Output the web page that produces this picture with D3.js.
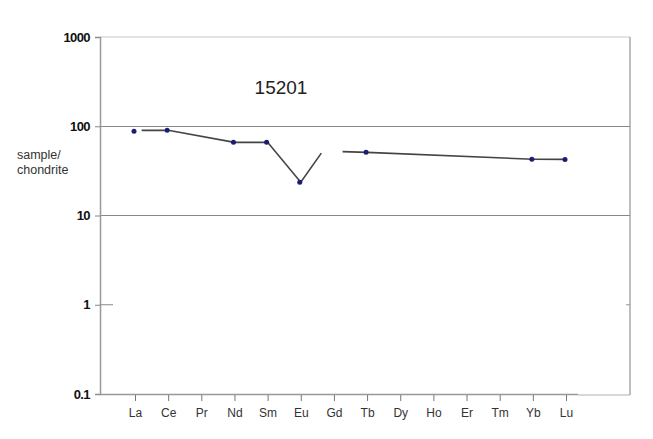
<!DOCTYPE html>
<html><head><meta charset="utf-8">
<script src="https://cdn.jsdelivr.net/npm/d3@7"></script>
<style>body{margin:0;background:#fff}svg{display:block;font-family:Arial,"Liberation Sans",sans-serif}</style>
</head><body><div id="c"></div>
<script>
const categories = ["La","Ce","Pr","Nd","Sm","Eu","Gd","Tb","Dy","Ho","Er","Tm","Yb","Lu"];
const pointCats = ["La","Ce","Nd","Sm","Eu","Tb","Yb","Lu"];
const pointVals = [88, 90, 66, 66, 23.6, 51, 42.7, 42.5];
// line segments: [category index (fractional), value]
const lineSeg1 = [[0.2,90],[1,90],[3,66],[4,66],[5,23.6],[5.62,50]];
const lineSeg2 = [[6.26,52],[7,51],[12,42.7],[13,42.5]];
const yTicks = [0.1, 1, 10, 100, 1000];
const yTickLabels = ["0.1","1","10","100","1000"];
const title = "15201";

(function(){
const W=653,H=439;
const svg=d3.select("#c").append("svg").attr("width",W).attr("height",H);
const pL=100,pR=630,pT=37,pB=394;
const y=d3.scaleLog().domain([0.1,1000]).range([pB,pT]);
const xi=d3.scaleLinear().domain([0,categories.length-1]).range([135,566]);
const x=c=>xi(categories.indexOf(c));

// frame
svg.append("line").attr("x1",pL).attr("x2",pR).attr("y1",pT).attr("y2",pT).attr("stroke","#c8c8c8").attr("stroke-width",1.2);
svg.append("line").attr("x1",pR).attr("x2",pR).attr("y1",pT).attr("y2",pB+1).attr("stroke","#a8a8a8").attr("stroke-width",1.5);
svg.append("line").attr("x1",578).attr("x2",pR).attr("y1",pB+1).attr("y2",pB+1).attr("stroke","#b0b0b0").attr("stroke-width",1.2);

// gridlines
[10,100].forEach(v=>svg.append("line").attr("x1",pL).attr("x2",pR).attr("y1",Math.round(y(v))+0.5).attr("y2",Math.round(y(v))+0.5).attr("stroke","#888").attr("stroke-width",1));

// y axis
const ya=svg.append("g").attr("transform",`translate(${pL},0)`)
  .call(d3.axisLeft(y).tickValues(yTicks).tickFormat((d,i)=>yTickLabels[i]).tickSize(5).tickPadding(5));
ya.select(".domain").attr("stroke","#999").attr("stroke-width",1.5);
ya.selectAll(".tick line").attr("stroke","#888");
ya.selectAll("text").attr("font-size",13).attr("font-weight","bold").attr("fill","#111").attr("letter-spacing","-0.6").attr("font-family","Arial, 'Liberation Sans', sans-serif");
svg.append("line").attr("x1",pL).attr("x2",pL+13).attr("y1",y(1)).attr("y2",y(1)).attr("stroke","#888");
svg.append("line").attr("x1",pR-4).attr("x2",pR).attr("y1",y(1)).attr("y2",y(1)).attr("stroke","#999");

// x axis
const xa=svg.append("g").attr("transform",`translate(0,${pB})`)
  .call(d3.axisBottom(xi).tickValues(d3.range(categories.length)).tickFormat(i=>categories[i]).tickSize(6).tickPadding(8).tickSizeOuter(0));
xa.select(".domain").attr("d",`M${pL},0.5H578`).attr("stroke","#999").attr("stroke-width",1.5);
xa.selectAll(".tick line").attr("stroke","#777").attr("transform","translate(0,1)");
xa.selectAll("text").attr("font-size",12).attr("fill","#333").attr("font-family","Arial, 'Liberation Sans', sans-serif");

// y label
const yl=svg.append("text").attr("x",17).attr("font-size",12.5).attr("fill","#333");
yl.append("tspan").attr("x",17).attr("y",159).text("sample/");
yl.append("tspan").attr("x",17).attr("y",174).text("chondrite");

// title
svg.append("text").attr("x",281).attr("y",94).attr("text-anchor","middle").attr("font-size",19).attr("fill","#222").text(title);

// lines
const ln=d3.line().x(d=>xi(d[0])).y(d=>y(d[1]));
[lineSeg1,lineSeg2].forEach(s=>svg.append("path").attr("d",ln(s)).attr("fill","none").attr("stroke","#444").attr("stroke-width",1.6));

// points
svg.selectAll(".pt").data(pointVals).enter().append("circle").attr("class","pt")
  .attr("cx",(d,i)=>x(pointCats[i])-1).attr("cy",d=>y(d)).attr("r",2.5)
  .attr("fill","#1b1b78");
})();
</script></body></html>
